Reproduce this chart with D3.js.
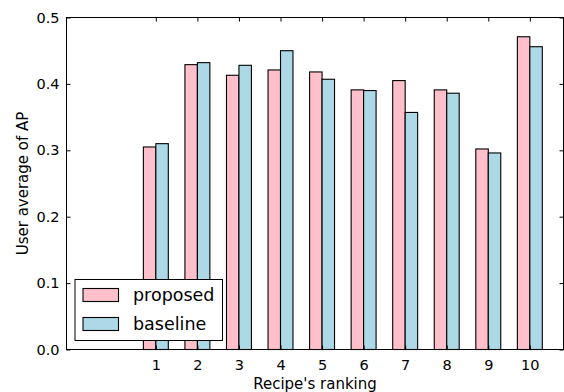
<!DOCTYPE html>
<html>
<head>
<meta charset="utf-8">
<script src="https://cdn.jsdelivr.net/npm/d3@7/dist/d3.min.js"></script>
<style>
  body { margin: 0; background: #fff; }
  svg text { font-family: "DejaVu Sans", sans-serif; fill: #000; }
</style>
</head>
<body>
<div id="chart"></div>
<script>
// Chart data
var rankings = [1, 2, 3, 4, 5, 6, 7, 8, 9, 10];
var proposed = [0.305, 0.429, 0.413, 0.421, 0.418, 0.391, 0.405, 0.391, 0.302, 0.471];
var baseline = [0.310, 0.432, 0.428, 0.450, 0.407, 0.390, 0.357, 0.386, 0.296, 0.456];
var yTicks = [0.0, 0.1, 0.2, 0.3, 0.4, 0.5];
var seriesNames = ["proposed", "baseline"];

var COLORS = { proposed: "#ffc0cb", baseline: "#add8e6" };

var renderBarChart = function() {
  var width = 564, height = 392;
  var margins = { top: 17.5, right: 0.5, bottom: 42.5, left: 66.5 };
  var chartWidth = width - margins.left - margins.right;
  var chartHeight = height - margins.top - margins.bottom;
  var barWidth = 0.3;

  var svg = d3.select("#chart").append("svg")
    .attr("width", width)
    .attr("height", height);

  var chart = svg.append("g")
    .attr("transform", `translate(${margins.left},${margins.top})`);

  var xScale = d3.scaleLinear().domain([-1.15, 10.81]).range([0, chartWidth]);
  var yScale = d3.scaleLinear().domain([0, 0.5]).range([chartHeight, 0]);

  var series = [
    { name: seriesNames[0], values: proposed, offset: -barWidth },
    { name: seriesNames[1], values: baseline, offset: 0 }
  ];

  // bars
  series.forEach(function(s) {
    chart.append("g").selectAll("rect")
      .data(s.values)
      .enter().append("rect")
      .attr("x", (d, i) => xScale(rankings[i] + s.offset))
      .attr("y", d => yScale(d))
      .attr("width", xScale(barWidth) - xScale(0))
      .attr("height", d => chartHeight - yScale(d))
      .attr("fill", COLORS[s.name])
      .attr("stroke", "#000")
      .attr("stroke-width", 1.1);
  });

  // axes with inward ticks on all four sides
  var fmt = d3.format(".1f");
  var axisStyle = function(g) {
    g.select(".domain").remove();
    g.selectAll(".tick line").attr("stroke", "#000");
    g.selectAll("text").style("font-size", "14.5px");
  };

  chart.append("g")
    .attr("transform", `translate(0,${chartHeight})`)
    .call(d3.axisBottom(xScale).tickValues(rankings).tickFormat(d3.format("d"))
      .tickSizeInner(-4).tickSizeOuter(0).tickPadding(10))
    .call(axisStyle);

  chart.append("g")
    .call(d3.axisTop(xScale).tickValues(rankings).tickFormat("")
      .tickSizeInner(-4).tickSizeOuter(0))
    .call(axisStyle);

  chart.append("g")
    .call(d3.axisLeft(yScale).tickValues(yTicks).tickFormat(fmt)
      .tickSizeInner(-4).tickSizeOuter(0).tickPadding(7))
    .call(axisStyle);

  chart.append("g")
    .attr("transform", `translate(${chartWidth},0)`)
    .call(d3.axisRight(yScale).tickValues(yTicks).tickFormat("")
      .tickSizeInner(-4).tickSizeOuter(0))
    .call(axisStyle);

  // frame
  chart.append("rect")
    .attr("width", chartWidth)
    .attr("height", chartHeight)
    .attr("fill", "none")
    .attr("stroke", "#000")
    .attr("stroke-width", 1);

  // axis labels
  svg.append("text")
    .attr("x", margins.left + chartWidth / 2)
    .attr("y", 388.5)
    .attr("text-anchor", "middle")
    .style("font-size", "15px")
    .text("Recipe's ranking");

  svg.append("text")
    .attr("transform", `translate(28,${margins.top + chartHeight / 2}) rotate(-90)`)
    .attr("text-anchor", "middle")
    .style("font-size", "15px")
    .text("User average of AP");

  // legend
  var legend = svg.append("g").attr("transform", "translate(75,279.5)");
  legend.append("rect")
    .attr("width", 147.5).attr("height", 61)
    .attr("fill", "#fff").attr("stroke", "#000").attr("stroke-width", 1);

  var items = legend.selectAll("g.item")
    .data(seriesNames)
    .enter().append("g")
    .attr("transform", (d, i) => `translate(8,${9 + i * 29})`);

  items.append("rect")
    .attr("width", 35.5).attr("height", 13)
    .attr("fill", d => COLORS[d])
    .attr("stroke", "#000").attr("stroke-width", 1.1);

  items.append("text")
    .attr("x", 50)
    .attr("y", 12.5)
    .style("font-size", "17.5px")
    .text(d => d);
};

window.onload = renderBarChart;
</script>
</body>
</html>
